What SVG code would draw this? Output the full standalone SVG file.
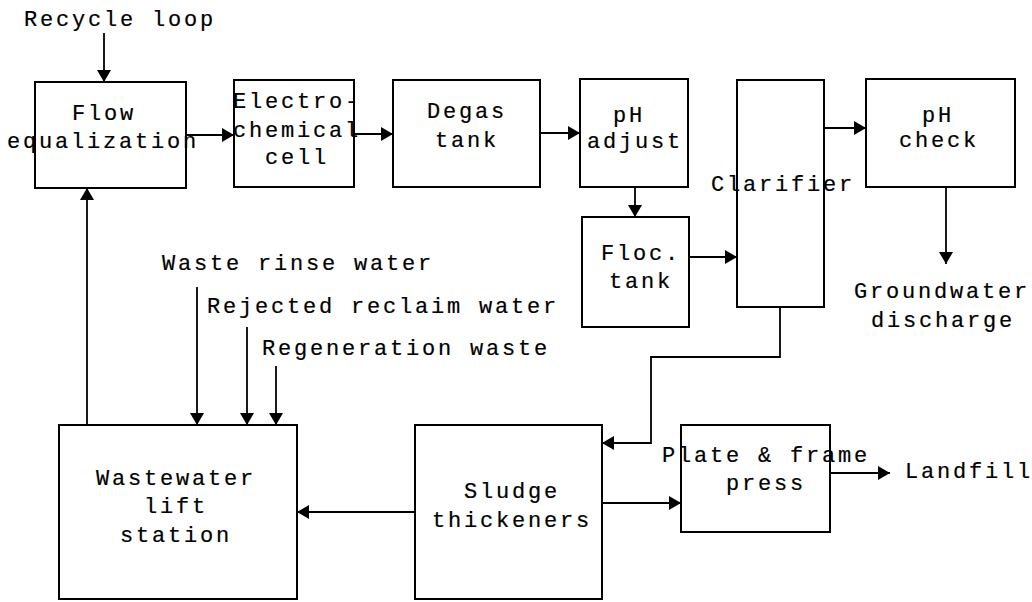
<svg xmlns="http://www.w3.org/2000/svg" width="1032" height="602" viewBox="0 0 1032 602">
<defs>
<style>
.box{fill:none;stroke:#000;stroke-width:2}
.t{font-family:"Liberation Mono","Courier New",monospace;font-size:22px;letter-spacing:2.8px;fill:#000;stroke:#000;stroke-width:0.2}
.c{fill:none;stroke:#000;stroke-width:1.8}
</style>
<marker id="ah" markerUnits="userSpaceOnUse" markerWidth="13" markerHeight="14" refX="12" refY="7" orient="auto">
<path d="M0,0 L12,7 L0,14 z" fill="#000"/>
</marker>
</defs>
<rect width="1032" height="602" fill="#fff"/>
<g id="connectors">
<path class="c" d="M104,33 V82" marker-end="url(#ah)"/>
<path class="c" d="M186,135 H234" marker-end="url(#ah)"/>
<path class="c" d="M354,134 H393" marker-end="url(#ah)"/>
<path class="c" d="M540,133 H580" marker-end="url(#ah)"/>
<path class="c" d="M635,187 V217" marker-end="url(#ah)"/>
<path class="c" d="M689,257 H737" marker-end="url(#ah)"/>
<path class="c" d="M824,128 H866" marker-end="url(#ah)"/>
<path class="c" d="M946,187 V264" marker-end="url(#ah)"/>
<path class="c" d="M780,307 V357 H651 V443 H602" marker-end="url(#ah)"/>
<path class="c" d="M602,503 H681" marker-end="url(#ah)"/>
<path class="c" d="M830,473 H890" marker-end="url(#ah)"/>
<path class="c" d="M415,512 H297" marker-end="url(#ah)"/>
<path class="c" d="M87,425 V188" marker-end="url(#ah)"/>
<path class="c" d="M197,287 V425" marker-end="url(#ah)"/>
<path class="c" d="M247,327 V425" marker-end="url(#ah)"/>
<path class="c" d="M276,366 V425" marker-end="url(#ah)"/>
</g>
<g id="recycle"><text class="t" x="24" y="26">Recycle loop</text></g>
<g id="flow-eq">
<rect class="box" x="35" y="82" width="151" height="106"/>
<text class="t" x="72" y="120">Flow</text>
<text class="t" x="7" y="148">equalization</text>
</g>
<g id="electro">
<rect class="box" x="234" y="80" width="120" height="107"/>
<text class="t" x="233" y="108">Electro-</text>
<text class="t" x="233" y="137">chemical</text>
<text class="t" x="265" y="164">cell</text>
</g>
<g id="degas">
<rect class="box" x="393" y="80" width="147" height="107"/>
<text class="t" x="427" y="118">Degas</text>
<text class="t" x="435" y="147">tank</text>
</g>
<g id="ph-adjust">
<rect class="box" x="580" y="79" width="108" height="108"/>
<text class="t" x="613" y="122">pH</text>
<text class="t" x="587" y="148">adjust</text>
</g>
<g id="floc">
<rect class="box" x="582" y="217" width="107" height="110"/>
<text class="t" x="601" y="260">Floc.</text>
<text class="t" x="609" y="288">tank</text>
</g>
<g id="clarifier">
<rect class="box" x="737" y="80" width="87" height="227"/>
<text class="t" x="711" y="191">Clarifier</text>
</g>
<g id="ph-check">
<rect class="box" x="866" y="79" width="149" height="108"/>
<text class="t" x="922" y="122">pH</text>
<text class="t" x="899" y="147">check</text>
</g>
<g id="groundwater">
<text class="t" x="854" y="298">Groundwater</text>
<text class="t" x="871" y="327">discharge</text>
</g>
<g id="waste-inputs">
<text class="t" x="162" y="270">Waste rinse water</text>
<text class="t" x="207" y="313">Rejected reclaim water</text>
<text class="t" x="262" y="355">Regeneration waste</text>
</g>
<g id="lift-station">
<rect class="box" x="59" y="425" width="238" height="174"/>
<text class="t" x="96" y="485">Wastewater</text>
<text class="t" x="144" y="513">lift</text>
<text class="t" x="120" y="542">station</text>
</g>
<g id="sludge">
<rect class="box" x="415" y="425" width="187" height="174"/>
<text class="t" x="464" y="498">Sludge</text>
<text class="t" x="432" y="527">thickeners</text>
</g>
<g id="press">
<rect class="box" x="681" y="425" width="149" height="107"/>
<text class="t" x="662" y="462">Plate &amp; frame</text>
<text class="t" x="726" y="490">press</text>
</g>
<g id="landfill"><text class="t" x="905" y="478">Landfill</text></g>
</svg>
